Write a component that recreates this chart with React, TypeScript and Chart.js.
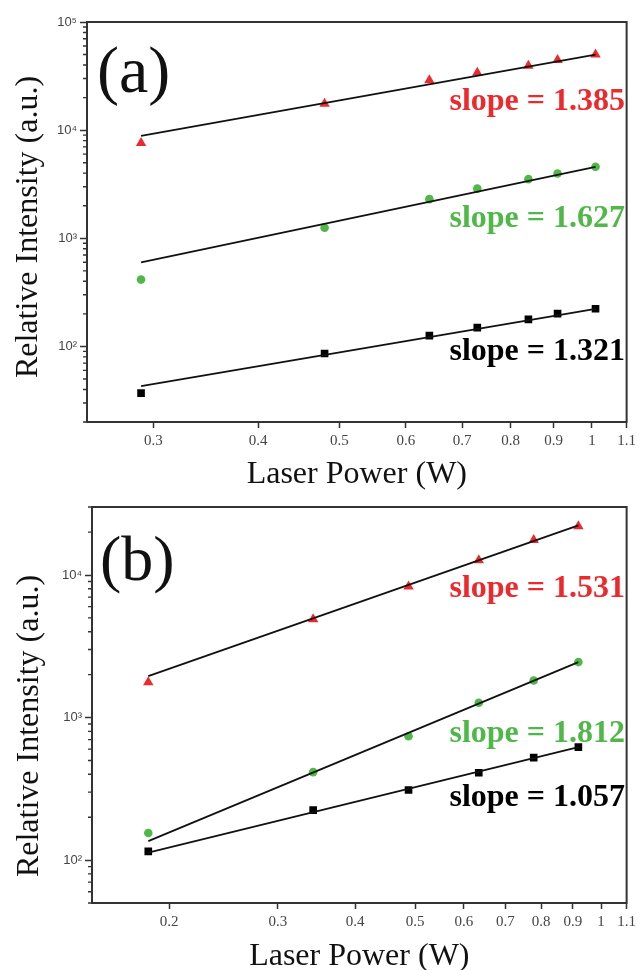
import React, { useEffect, useRef } from 'react';
import { Chart, registerables } from 'chart.js';

Chart.register(...registerables);

const SERIF = '"Liberation Serif", "Times New Roman", serif';
const SANS = '"Liberation Sans", Arial, sans-serif';
const RED = '#ec2a2e';
const GREEN = '#50b848';
const BLACK = '#000000';

// ---------- Panel (a) data ----------
const powerA = [0.29, 0.48, 0.64, 0.73, 0.84, 0.91, 1.01];
const redA = [7600, 17500, 29000, 33900, 39400, 44500, 50000];
const greenA = [415, 1250, 2300, 2880, 3520, 3970, 4580];
const blackA = [37, 86, 126, 149, 178, 201, 223];
const fitPowerA = [0.29, 1.01];
const fitRedA = [8850, 50000];
const fitGreenA = [600, 4570];
const fitBlackA = [43, 222];
const xTicksA = [0.3, 0.4, 0.5, 0.6, 0.7, 0.8, 0.9, 1, 1.1];
const yTicksA = [100, 1000, 10000, 100000];
const yTickLabelsA = ['10²', '10³', '10⁴', '10⁵'];
const yDecadesA = [10, 100, 1000, 10000];
const slopesA = ['slope = 1.385', 'slope = 1.627', 'slope = 1.321'];

// ---------- Panel (b) data ----------
const powerB = [0.185, 0.342, 0.488, 0.634, 0.778, 0.919];
const redB = [1770, 4900, 8300, 12700, 17600, 22000];
const greenB = [155, 414, 740, 1270, 1820, 2450];
const blackB = [115, 224, 310, 410, 523, 620];
const fitPowerB = [0.185, 0.919];
const fitRedB = [1950, 22300];
const fitGreenB = [136, 2450];
const fitBlackB = [113, 620];
const xTicksB = [0.2, 0.3, 0.4, 0.5, 0.6, 0.7, 0.8, 0.9, 1, 1.1];
const yTicksB = [100, 1000, 10000];
const yTickLabelsB = ['10²', '10³', '10⁴'];
const yDecadesB = [10, 100, 1000, 10000];
const slopesB = ['slope = 1.531', 'slope = 1.812', 'slope = 1.057'];

const minorMultipliers = [2, 3, 4, 5, 6, 7, 8, 9];

const xTitle = 'Laser Power (W)';
const yTitle = 'Relative Intensity (a.u.)';

type Panel = {
  height: number;
  padTop: number;
  padRight: number;
  yWidth: number;
  xHeight: number;
  xMin: number;
  xMax: number;
  yMin: number;
  yMax: number;
  xTicks: number[];
  yTicks: number[];
  yTickLabels: string[];
  yDecades: number[];
  power: number[];
  red: number[];
  green: number[];
  black: number[];
  fitPower: number[];
  fitRed: number[];
  fitGreen: number[];
  fitBlack: number[];
  label: string;
  labelSize: number;
  labelX: number;
  labelY: number;
  slopes: string[];
  slopeY: number[];
  slopeRight: number;
  xTitleY: number;
  yTitleX: number;
  yTitleCY: number;
};

const panelA: Panel = {
  height: 490, padTop: 22, padRight: 11, yWidth: 87, xHeight: 68,
  xMin: 0.25, xMax: 1.1, yMin: 20, yMax: 100000,
  xTicks: xTicksA, yTicks: yTicksA, yTickLabels: yTickLabelsA, yDecades: yDecadesA,
  power: powerA, red: redA, green: greenA, black: blackA,
  fitPower: fitPowerA, fitRed: fitRedA, fitGreen: fitGreenA, fitBlack: fitBlackA,
  label: '(a)', labelSize: 66, labelX: 97, labelY: 92,
  slopes: slopesA, slopeY: [110, 227, 360], slopeRight: 625,
  xTitleY: 483, yTitleX: 37, yTitleCY: 227,
};

const panelB: Panel = {
  height: 480, padTop: 17, padRight: 12, yWidth: 92, xHeight: 67,
  xMin: 0.15, xMax: 1.1, yMin: 50, yMax: 30000,
  xTicks: xTicksB, yTicks: yTicksB, yTickLabels: yTickLabelsB, yDecades: yDecadesB,
  power: powerB, red: redB, green: greenB, black: blackB,
  fitPower: fitPowerB, fitRed: fitRedB, fitGreen: fitGreenB, fitBlack: fitBlackB,
  label: '(b)', labelSize: 64, labelX: 100, labelY: 90,
  slopes: slopesB, slopeY: [107, 252, 316], slopeRight: 625,
  xTitleY: 475, yTitleX: 38, yTitleCY: 236,
};

const toPts = (xs: number[], ys: number[]) => xs.map((x, i) => ({ x, y: ys[i] }));

function makeChart(canvas: HTMLCanvasElement, p: Panel) {
  const slopeColors = [RED, GREEN, BLACK];
  const decor = {
    id: 'decor',
    afterDraw(chart: any) {
      const ctx = chart.ctx as CanvasRenderingContext2D;
      const { left, right, top, bottom } = chart.chartArea;
      const ys = chart.scales.y;
      ctx.save();
      // frame top & right
      ctx.strokeStyle = '#333';
      ctx.lineWidth = 2;
      ctx.beginPath();
      ctx.moveTo(left - 1, top);
      ctx.lineTo(right, top);
      ctx.lineTo(right, bottom + 1);
      ctx.stroke();
      // minor y ticks
      ctx.lineWidth = 1.4;
      ctx.beginPath();
      p.yDecades.forEach((d) => {
        minorMultipliers.forEach((m) => {
          const v = d * m;
          if (v < p.yMin || v > p.yMax) return;
          const y = ys.getPixelForValue(v);
          ctx.moveTo(left - 4, y);
          ctx.lineTo(left, y);
        });
      });
      ctx.stroke();
      // panel label
      ctx.fillStyle = '#111';
      ctx.textAlign = 'left';
      ctx.textBaseline = 'alphabetic';
      ctx.font = `${p.labelSize}px ${SERIF}`;
      ctx.fillText(p.label, p.labelX, p.labelY);
      // slopes
      ctx.font = `bold 32px ${SERIF}`;
      ctx.textAlign = 'right';
      p.slopes.forEach((s, i) => {
        ctx.fillStyle = slopeColors[i];
        ctx.fillText(s, p.slopeRight, p.slopeY[i]);
      });
      // x title
      ctx.fillStyle = '#111';
      ctx.font = `32px ${SERIF}`;
      ctx.textAlign = 'center';
      ctx.fillText(xTitle, (left + right) / 2, p.xTitleY);
      // y title
      ctx.translate(p.yTitleX, p.yTitleCY);
      ctx.rotate(-Math.PI / 2);
      ctx.fillText(yTitle, 0, 0);
      ctx.restore();
    },
  };

  const lineDs = (ys: number[]) => ({
    type: 'line' as const,
    data: toPts(p.fitPower, ys),
    borderColor: '#111',
    borderWidth: 1.8,
    pointRadius: 0,
    showLine: true,
    fill: false,
    order: 0,
  });
  const markDs = (ys: number[], style: string, color: string, r: number) => ({
    type: 'scatter' as const,
    data: toPts(p.power, ys),
    pointStyle: style,
    pointRadius: r,
    pointBackgroundColor: color,
    pointBorderColor: color,
    pointBorderWidth: 0,
    backgroundColor: color,
    borderColor: color,
    order: 1,
  });

  return new Chart(canvas, {
    type: 'scatter',
    data: {
      datasets: [
        lineDs(p.fitRed),
        lineDs(p.fitGreen),
        lineDs(p.fitBlack),
        markDs(p.red, 'triangle', RED, 6),
        markDs(p.green, 'circle', GREEN, 4.3),
        markDs(p.black, 'rect', BLACK, 5.4),
      ] as any,
    },
    options: {
      responsive: false,
      animation: false,
      layout: { padding: { top: p.padTop, right: p.padRight, left: 0, bottom: 0 } },
      plugins: { legend: { display: false }, tooltip: { enabled: false } },
      scales: {
        x: {
          type: 'logarithmic',
          min: p.xMin,
          max: p.xMax,
          bounds: 'data',
          afterBuildTicks: (s: any) => {
            s.ticks = p.xTicks.map((v) => ({ value: v }));
          },
          afterFit: (s: any) => {
            s.height = p.xHeight;
          },
          grid: {
            display: true,
            drawOnChartArea: false,
            drawTicks: true,
            tickLength: 6,
            tickWidth: 1.5,
            tickColor: '#333',
          },
          border: { display: true, color: '#333', width: 2 },
          ticks: {
            autoSkip: false,
            maxRotation: 0,
            minRotation: 0,
            padding: 4,
            color: '#444',
            font: { family: SERIF, size: 15 },
            callback: (v: any) => String(v),
          },
        },
        y: {
          type: 'logarithmic',
          min: p.yMin,
          max: p.yMax,
          bounds: 'data',
          afterBuildTicks: (s: any) => {
            s.ticks = p.yTicks.map((v) => ({ value: v }));
          },
          afterFit: (s: any) => {
            s.width = p.yWidth;
          },
          grid: {
            display: true,
            drawOnChartArea: false,
            drawTicks: true,
            tickLength: 7,
            tickWidth: 1.5,
            tickColor: '#333',
          },
          border: { display: true, color: '#333', width: 2 },
          ticks: {
            autoSkip: false,
            padding: 3,
            color: '#444',
            font: { family: SANS, size: 13 },
            callback: (_v: any, i: number) => p.yTickLabels[i],
          },
        },
      },
    } as any,
    plugins: [decor],
  });
}

function PanelChart({ p, top }: { p: Panel; top: number }) {
  const ref = useRef<HTMLCanvasElement>(null);
  useEffect(() => {
    if (!ref.current) return;
    const c = makeChart(ref.current, p);
    return () => c.destroy();
  }, [p]);
  return (
    <canvas
      ref={ref}
      width={640}
      height={p.height}
      style={{ position: 'absolute', left: 0, top, width: 640, height: p.height }}
    />
  );
}

export default function App() {
  return (
    <div
      style={{
        position: 'fixed',
        left: 0,
        top: 0,
        width: 640,
        height: 970,
        background: '#ffffff',
        overflow: 'hidden',
      }}
    >
      <PanelChart p={panelA} top={0} />
      <PanelChart p={panelB} top={490} />
    </div>
  );
}
